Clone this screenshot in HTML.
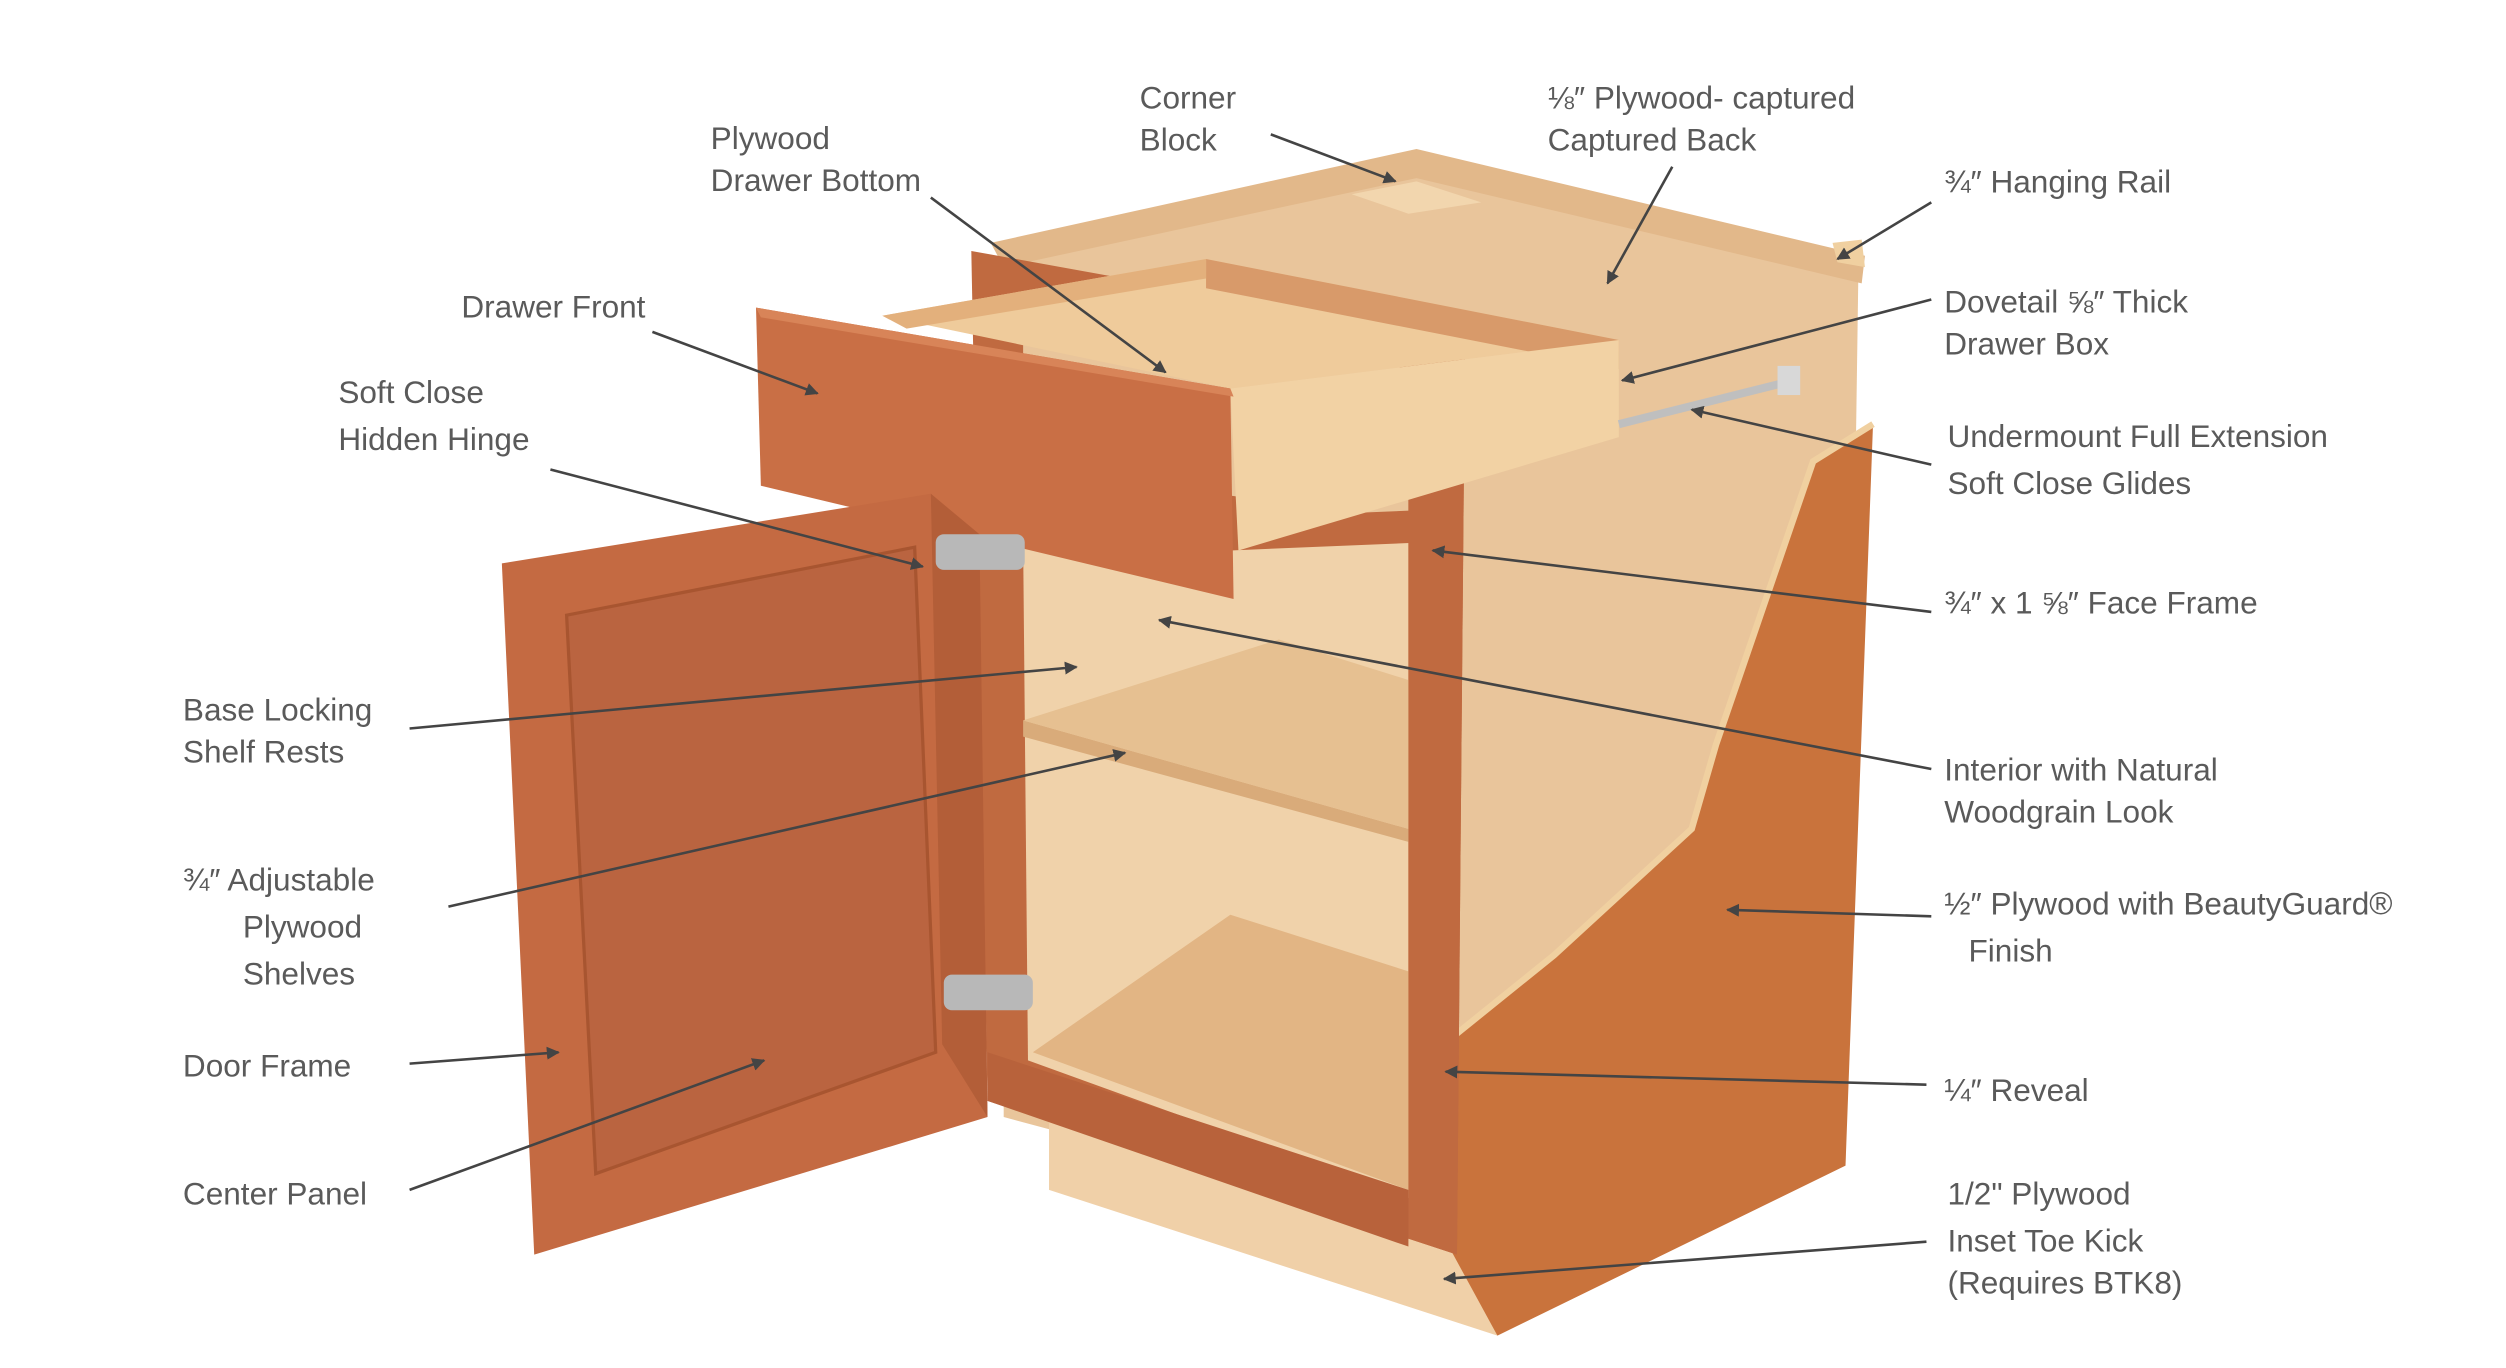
<!DOCTYPE html>
<html><head><meta charset="utf-8"><style>
html,body{margin:0;padding:0;background:#fff;}
svg{display:block;}
text{font-family:"Liberation Sans",sans-serif;font-size:19.5px;fill:#5a5a5a;}
</style></head><body>
<svg width="2506" height="1368" viewBox="0 0 1548 845" xmlns="http://www.w3.org/2000/svg">
<defs>
<marker id="a" viewBox="0 0 10 10" refX="9" refY="5" markerWidth="5" markerHeight="5" orient="auto"><path d="M0,0 L10,5 L0,10 z" fill="#444"/></marker>
</defs>
<rect width="1548" height="845" fill="#fff"/>
<!-- back panel -->
<polygon points="620,160 875,98 1148,165 1140,720 900,765 620,690" fill="#e9c59b"/>
<!-- top rails -->
<polygon points="612,150 875,92 1152,158 1150,175 875,110 620,165" fill="#e2b88a"/>
<polygon points="835,120 875,112 915,125 870,132" fill="#f2d6ae"/>
<polygon points="1132,150 1150,148 1152,165 1135,162" fill="#f0d0a0"/>
<!-- toe kick -->
<polygon points="648,690 925,760 925,825 648,735" fill="#f0d0a8"/>
<polygon points="895,770 925,760 925,825" fill="#e6bf95"/>
<!-- right side panel -->
<polygon points="1157,262 1140,720 925,825 895,770 898,640 960,590 1045,512 1060,460 1120,285" fill="#c9733c"/>
<polyline points="1157,262 1120,285 1060,460 1045,512 960,590 898,640" fill="none" stroke="#f0d0a0" stroke-width="4"/>
<!-- face frame -->
<polygon points="600,155 905,210 900,775 610,680" fill="#c06a40"/>
<polygon points="632,182 870,228 870,320 632,290" fill="#e9c59b"/>
<polygon points="632,335 870,330 870,740 635,655" fill="#f0d2aa"/>
<!-- shelf & floor -->
<polygon points="632,445 870,512 870,520 632,455" fill="#d9ab7a"/>
<polygon points="632,445 870,512 870,420 790,395" fill="#e6c091"/>
<polygon points="638,650 870,735 870,600 760,565" fill="#e2b584"/>
<!-- face frame bars overlay -->
<polygon points="870,200 905,210 900,775 870,765" fill="#c06a40"/>
<polygon points="610,650 870,735 870,770 610,680" fill="#b8623b"/>
<polygon points="760,320 880,315 880,335 760,340" fill="#c06a40"/>
<!-- drawer box -->
<polygon points="545,195 745,160 1000,210 760,240" fill="#efcb9b"/>
<polygon points="745,160 1000,210 1000,228 745,178" fill="#d89a6a"/>
<polygon points="545,195 745,160 745,172 560,203" fill="#e3b07c"/>
<polygon points="760,240 1000,210 1000,270 765,340" fill="#f2d2a4"/>
<!-- glide -->
<line x1="1000" y1="262" x2="1108" y2="235" stroke="#bfbfbf" stroke-width="5"/>
<rect x="1098" y="226" width="14" height="18" fill="#d8d8d8"/>
<!-- drawer front -->
<polygon points="467,190 760,240 762,370 470,300" fill="#c96f45"/>
<polygon points="467,190 760,240 762,245 470,196" fill="#d88458"/>
<!-- door -->
<polygon points="310,348 575,305 605,330 610,690 330,775" fill="#c46a42"/>
<polygon points="350,380 565,338 578,650 368,725" fill="#ba6440"/>
<polygon points="350,380 565,338 578,650 368,725" fill="none" stroke="#a85530" stroke-width="2"/>
<polygon points="575,305 605,330 610,690 582,645" fill="#b35e38"/>
<!-- hinges -->
<rect x="578" y="330" width="55" height="22" rx="5" fill="#b8b8b8"/>
<rect x="583" y="602" width="55" height="22" rx="5" fill="#b8b8b8"/>
<!-- leader lines -->
<g stroke="#444" stroke-width="1.6" marker-end="url(#a)">
<line x1="785" y1="83" x2="862" y2="112"/>
<line x1="1033" y1="103" x2="993" y2="175"/>
<line x1="1193" y1="125" x2="1135" y2="160"/>
<line x1="575" y1="122" x2="720" y2="230"/>
<line x1="403" y1="205" x2="505" y2="243"/>
<line x1="340" y1="290" x2="570" y2="350"/>
<line x1="1193" y1="185" x2="1002" y2="235"/>
<line x1="1193" y1="287" x2="1045" y2="253"/>
<line x1="1193" y1="378" x2="885" y2="340"/>
<line x1="253" y1="450" x2="665" y2="412"/>
<line x1="1193" y1="475" x2="716" y2="383"/>
<line x1="277" y1="560" x2="695" y2="465"/>
<line x1="1193" y1="566" x2="1067" y2="562"/>
<line x1="253" y1="657" x2="345" y2="650"/>
<line x1="1190" y1="670" x2="893" y2="662"/>
<line x1="253" y1="735" x2="472" y2="655"/>
<line x1="1190" y1="767" x2="892" y2="790"/>
</g>
<!-- labels -->
<g transform="translate(-4,0)">
<text x="708" y="67">Corner</text><text x="708" y="93">Block</text>
<text x="960" y="67">⅛″ Plywood- captured</text><text x="960" y="93">Captured Back</text>
<text x="1205" y="119">¾″ Hanging Rail</text>
<text x="443" y="92">Plywood</text><text x="443" y="118">Drawer Bottom</text>
<text x="289" y="196">Drawer Front</text>
<text x="213" y="249">Soft Close</text><text x="213" y="278">Hidden Hinge</text>
<text x="1205" y="193">Dovetail ⅝″ Thick</text><text x="1205" y="219">Drawer Box</text>
<text x="1207" y="276">Undermount Full Extension</text><text x="1207" y="305">Soft Close Glides</text>
<text x="1205" y="379">¾″ x 1 ⅝″ Face Frame</text>
<text x="117" y="445">Base Locking</text><text x="117" y="471">Shelf Rests</text>
<text x="1205" y="482">Interior with Natural</text><text x="1205" y="508">Woodgrain Look</text>
<text x="117" y="550">¾″  Adjustable</text><text x="154" y="579">Plywood</text><text x="154" y="608">Shelves</text>
<text x="1205" y="565">½″ Plywood with BeautyGuard®</text><text x="1220" y="594">Finish</text>
<text x="117" y="665">Door Frame</text>
<text x="1205" y="680">¼″ Reveal</text>
<text x="117" y="744">Center Panel</text>
<text x="1207" y="744">1/2" Plywood</text><text x="1207" y="773">Inset Toe Kick</text><text x="1207" y="799">(Requires BTK8)</text>
</g>
</svg>
</body></html>
